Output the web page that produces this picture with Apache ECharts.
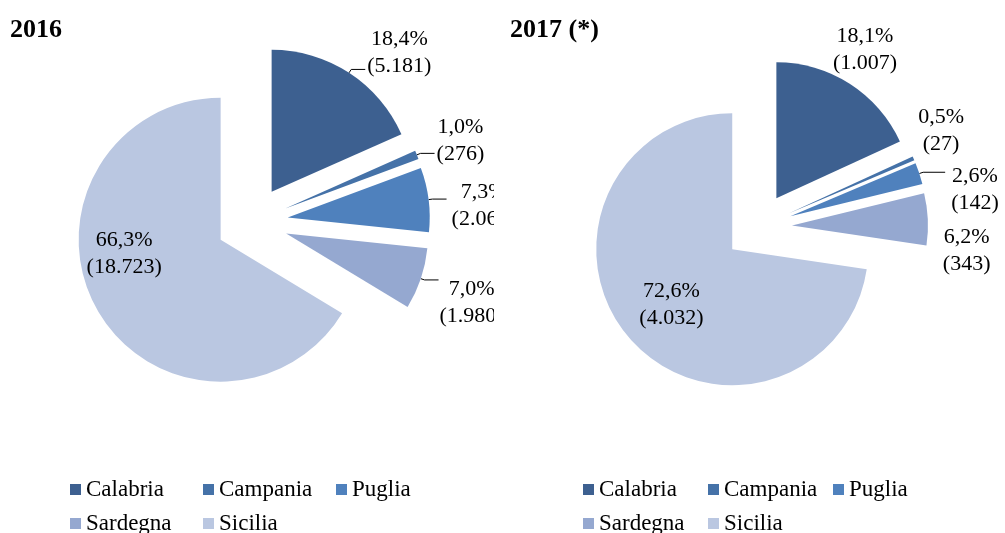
<!DOCTYPE html>
<html>
<head>
<meta charset="utf-8">
<script src="https://cdn.jsdelivr.net/npm/echarts@6.0.0/dist/echarts.min.js"></script>
<style>
  html, body { margin: 0; padding: 0; background: #fff; }
  .chart { position: absolute; top: 0; height: 533px; }
  #c2016 { left: 0; width: 494px; }
  #c2017 { left: 494px; width: 511px; }
</style>
</head>
<body>
<div id="c2016" class="chart"></div>
<div id="c2017" class="chart"></div>
<script>
// dati
const regions = ['Calabria', 'Campania', 'Puglia', 'Sardegna', 'Sicilia'];
const values2016 = [5181, 276, 2064, 1980, 18723];
const values2017 = [1007, 27, 142, 343, 4032];

const colors = ['#3d6090', '#4572a8', '#4f81bd', '#95a8d0', '#bac7e1'];
const serif = "'Liberation Serif', 'Times New Roman', serif";

const fmtPct = p => p.toFixed(1).replace('.', ',');
const fmtNum = v => String(v).replace(/\B(?=(\d{3})+(?!\d))/g, '.');

function buildPie(el, cfg) {
  const chart = echarts.init(el);
  const data = regions.map((name, i) => ({
    name,
    value: cfg.values[i],
    selected: true,
    label: name === 'Sicilia' ? { position: 'inside' } : undefined,
    labelLine: { show: cfg.lines.includes(name) }
  }));

  chart.setOption({
    animation: false,
    color: colors,
    title: {
      text: cfg.title,
      left: cfg.titleLeft,
      top: 17,
      padding: 0,
      textStyle: { fontFamily: serif, fontSize: 26, fontWeight: 'bold', color: '#000' }
    },
    legend: {
      data: regions,
      left: cfg.legendLeft,
      top: 477,
      padding: 0,
      width: cfg.legendWidth,
      icon: 'rect',
      itemWidth: 11,
      itemHeight: 11,
      itemGap: 9,
      selectedMode: false,
      textStyle: { fontFamily: serif, fontSize: 23, color: '#000', width: cfg.legendTextWidth, lineHeight: 25 }
    },
    series: [{
      type: 'pie',
      center: cfg.center,
      radius: cfg.radius,
      startAngle: 90,
      clockwise: true,
      selectedMode: 'multiple',
      selectedOffset: cfg.offset,
      avoidLabelOverlap: false,
      percentPrecision: 1,
      itemStyle: { borderWidth: 0 },
      emphasis: { disabled: true },
      label: {
        show: true,
        position: 'outside',
        fontFamily: serif,
        fontSize: 22,
        lineHeight: 27,
        color: '#000',
        distanceToLabelLine: 4,
        bleedMargin: -300,
        formatter: p => fmtPct(p.percent) + '%\n(' + fmtNum(p.value) + ')'
      },
      labelLine: { length: 4, length2: cfg.length2, lineStyle: { color: '#000', width: 1 } },
      labelLayout: params => {
        const s = cfg.shift[regions[params.dataIndex]] || [0, 0];
        if (params.align === 'left') {
          return { align: 'center', dx: params.labelRect.width / 2 + s[0], dy: s[1] };
        }
        return { dx: s[0], dy: s[1] };
      },
      data
    }]
  });
  return chart;
}

buildPie(document.getElementById('c2016'), {
  title: '2016',
  titleLeft: 10,
  values: values2016,
  center: [252, 222],
  radius: 142,
  offset: 36,
  length2: 14,
  lines: ['Calabria', 'Campania', 'Puglia', 'Sardegna'],
  shift: { Calabria: [-2, -17], Campania: [-2, -13], Puglia: [1, 7], Sardegna: [-3, 23], Sicilia: [-32, -22] },
  legendLeft: 70,
  legendWidth: 400,
  legendTextWidth: 108
});

buildPie(document.getElementById('c2017'), {
  title: '2017 (*)',
  titleLeft: 16,
  values: values2017,
  center: [264, 227],
  radius: 136,
  offset: 34,
  length2: 22,
  lines: ['Puglia'],
  shift: { Calabria: [-45, -31], Campania: [-25, -26], Puglia: [2, 17], Sardegna: [-15, 32], Sicilia: [-7, 9] },
  legendLeft: 89,
  legendWidth: 380,
  legendTextWidth: 100
});
</script>
</body>
</html>
